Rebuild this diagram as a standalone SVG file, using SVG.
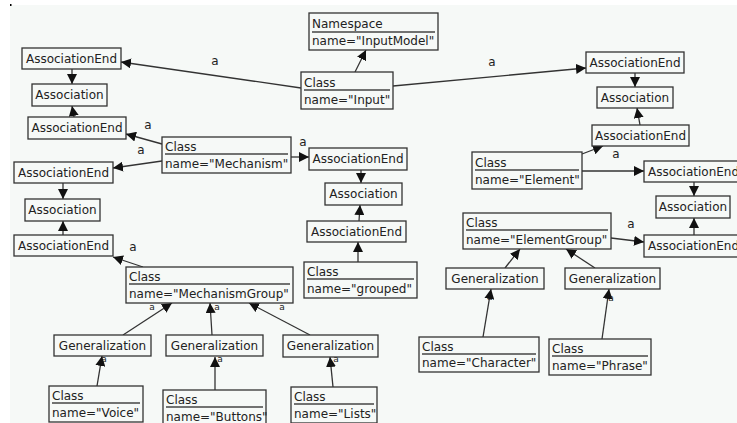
<svg xmlns="http://www.w3.org/2000/svg" width="737" height="423" viewBox="0 0 737 423">
<style>
.n rect{fill:#f6f9f7;stroke:#333;stroke-width:1.3}
.n line{stroke:#444;stroke-width:1.3}
text{font-family:"DejaVu Sans",Verdana,sans-serif;font-size:12px;fill:#222}
.c{text-anchor:middle}
.s{font-size:9px;text-anchor:middle}
#edges path{stroke:#333;stroke-width:1.3;fill:none;marker-end:url(#arr)}
</style>
<defs>
<marker id="arr" markerUnits="userSpaceOnUse" markerWidth="11" markerHeight="10" refX="10" refY="5" orient="auto">
<path d="M0,0 L10,5 L0,10 z" fill="#111"/>
</marker>
</defs>
<rect x="0" y="0" width="737" height="423" fill="#fff"/>
<rect x="10" y="5" width="727" height="418" fill="#f6f9f7"/>
<rect x="10" y="4" width="1.5" height="2" fill="#000"/>

<g id="labels">
<text class="c" x="215" y="65">a</text>
<text class="c" x="492" y="66">a</text>
<text class="c" x="148" y="129">a</text>
<text class="c" x="141" y="154">a</text>
<text class="c" x="303" y="146">a</text>
<text class="c" x="133" y="251">a</text>
<text class="c" x="616" y="158">a</text>
<text class="c" x="631" y="228">a</text>
<text class="s" x="152" y="310">a</text>
<text class="s" x="217" y="310">a</text>
<text class="s" x="282" y="310">a</text>
<text class="s" x="104" y="362">a</text>
<text class="s" x="220" y="362">a</text>
<text class="s" x="336" y="362">a</text>
<text class="s" x="490" y="300">a</text>
<text class="s" x="611" y="301">a</text>
</g>

<g id="edges">
<path d="M355,72 L366,50"/>
<path d="M301,88 L121,62"/>
<path d="M393,86 L586,68"/>
<path d="M72,69 L72,84"/>
<path d="M74,117 L72,106"/>
<path d="M162,144 L126,134"/>
<path d="M162,161 L113,168"/>
<path d="M291,157 L309,157"/>
<path d="M63,183 L63,199"/>
<path d="M63,235 L63,221"/>
<path d="M143,267 L113,257"/>
<path d="M361,170 L361,183"/>
<path d="M359,221 L360,205"/>
<path d="M358,262 L358,242"/>
<path d="M635,73 L635,87"/>
<path d="M640,125 L637,108"/>
<path d="M582,154 L603,146"/>
<path d="M582,171 L644,171"/>
<path d="M694,182 L694,196"/>
<path d="M694,235 L694,218"/>
<path d="M611,238 L644,242"/>
<path d="M505,268 L520,249"/>
<path d="M595,268 L566,249"/>
<path d="M483,337 L491,289"/>
<path d="M602,339 L609,289"/>
<path d="M123,335 L172,303"/>
<path d="M212,335 L210,303"/>
<path d="M310,335 L249,303"/>
<path d="M97,386 L102,356"/>
<path d="M215,390 L215,357"/>
<path d="M333,387 L330,357"/>
</g>

<g id="ns" class="n"><rect x="309" y="13" width="129" height="37"/><text x="312" y="28">Namespace</text><line x1="312" y1="32" x2="435" y2="32"/><text x="312" y="45">name="InputModel"</text></g>
<g id="input" class="n"><rect x="301" y="72" width="92" height="37"/><text x="304" y="87">Class</text><line x1="304" y1="90" x2="390" y2="90"/><text x="304" y="104">name="Input"</text></g>

<g id="ae1" class="n"><rect x="22" y="48" width="99" height="21"/><text class="c" x="71.5" y="63">AssociationEnd</text></g>
<g id="as1" class="n"><rect x="32" y="84" width="75" height="22"/><text class="c" x="69.5" y="99">Association</text></g>
<g id="ae2" class="n"><rect x="28" y="117" width="98" height="22"/><text class="c" x="77" y="132">AssociationEnd</text></g>

<g id="mech" class="n"><rect x="162" y="137" width="129" height="36"/><text x="165" y="151">Class</text><line x1="165" y1="154" x2="288" y2="154"/><text x="165" y="168">name="Mechanism"</text></g>

<g id="ae3" class="n"><rect x="14" y="162" width="99" height="21"/><text class="c" x="63.5" y="177">AssociationEnd</text></g>
<g id="as2" class="n"><rect x="25" y="199" width="75" height="22"/><text class="c" x="62.5" y="214">Association</text></g>
<g id="ae4" class="n"><rect x="14" y="235" width="99" height="21"/><text class="c" x="63.5" y="250">AssociationEnd</text></g>

<g id="mg" class="n"><rect x="126" y="267" width="167" height="36"/><text x="129" y="281">Class</text><line x1="129" y1="284" x2="290" y2="284"/><text x="129" y="298">name="MechanismGroup"</text></g>

<g id="ae5" class="n"><rect x="309" y="148" width="98" height="22"/><text class="c" x="358" y="163">AssociationEnd</text></g>
<g id="as3" class="n"><rect x="325" y="183" width="77" height="22"/><text class="c" x="363.5" y="198">Association</text></g>
<g id="ae6" class="n"><rect x="307" y="221" width="99" height="21"/><text class="c" x="356.5" y="236">AssociationEnd</text></g>
<g id="grouped" class="n"><rect x="304" y="262" width="113" height="36"/><text x="307" y="276">Class</text><line x1="307" y1="279" x2="414" y2="279"/><text x="307" y="293">name="grouped"</text></g>

<g id="ae7" class="n"><rect x="586" y="52" width="98" height="21"/><text class="c" x="635" y="67">AssociationEnd</text></g>
<g id="as4" class="n"><rect x="597" y="87" width="76" height="21"/><text class="c" x="635" y="102">Association</text></g>
<g id="ae8" class="n"><rect x="592" y="125" width="97" height="21"/><text class="c" x="640.5" y="140">AssociationEnd</text></g>

<g id="element" class="n"><rect x="472" y="152" width="110" height="37"/><text x="475" y="167">Class</text><line x1="475" y1="170" x2="579" y2="170"/><text x="475" y="184">name="Element"</text></g>

<g id="ae9" class="n"><rect x="644" y="161" width="99" height="21"/><text class="c" x="693.5" y="176">AssociationEnd</text></g>
<g id="as5" class="n"><rect x="656" y="196" width="74" height="22"/><text class="c" x="693" y="211">Association</text></g>
<g id="ae10" class="n"><rect x="644" y="235" width="99" height="22"/><text class="c" x="693.5" y="250">AssociationEnd</text></g>

<g id="eg" class="n"><rect x="463" y="213" width="148" height="36"/><text x="466" y="227">Class</text><line x1="466" y1="230" x2="608" y2="230"/><text x="466" y="244">name="ElementGroup"</text></g>

<g id="gen1" class="n"><rect x="446" y="268" width="98" height="21"/><text class="c" x="495" y="283">Generalization</text></g>
<g id="gen2" class="n"><rect x="565" y="268" width="95" height="21"/><text class="c" x="612.5" y="283">Generalization</text></g>

<g id="character" class="n"><rect x="419" y="337" width="120" height="35"/><text x="422" y="351">Class</text><line x1="422" y1="354" x2="536" y2="354"/><text x="422" y="367">name="Character"</text></g>
<g id="phrase" class="n"><rect x="549" y="339" width="102" height="36"/><text x="552" y="353">Class</text><line x1="552" y1="356" x2="648" y2="356"/><text x="552" y="370">name="Phrase"</text></g>

<g id="gen3" class="n"><rect x="54" y="335" width="97" height="21"/><text class="c" x="102.5" y="350">Generalization</text></g>
<g id="gen4" class="n"><rect x="166" y="335" width="97" height="21"/><text class="c" x="214.5" y="350">Generalization</text></g>
<g id="gen5" class="n"><rect x="283" y="335" width="95" height="22"/><text class="c" x="330.5" y="350">Generalization</text></g>

<g id="voice" class="n"><rect x="49" y="386" width="94" height="36"/><text x="52" y="400">Class</text><line x1="52" y1="403" x2="140" y2="403"/><text x="52" y="417">name="Voice"</text></g>
<g id="buttons" class="n"><rect x="163" y="390" width="103" height="36"/><text x="166" y="404">Class</text><line x1="166" y1="407" x2="263" y2="407"/><text x="166" y="421">name="Buttons"</text></g>
<g id="lists" class="n"><rect x="291" y="387" width="86" height="36"/><text x="294" y="401">Class</text><line x1="294" y1="404" x2="374" y2="404"/><text x="294" y="418">name="Lists"</text></g>
</svg>
